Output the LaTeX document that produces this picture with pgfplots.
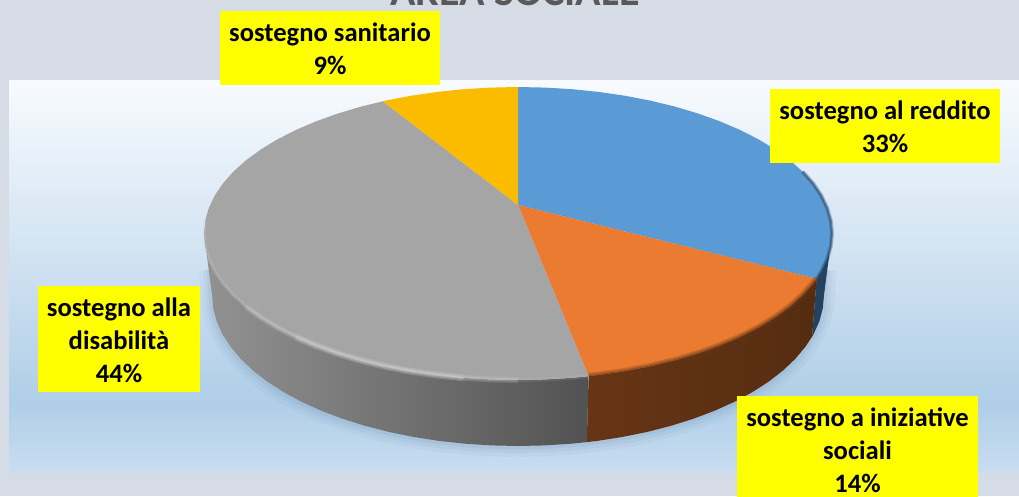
\documentclass[border=0pt]{standalone}
\usepackage{fontspec}
\setmainfont{Carlito}
\usepackage{pgfplots}
\pgfplotsset{compat=1.18}
\definecolor{pagebg}{HTML}{D6DCE5}
\definecolor{plottop}{HTML}{F8FBFE}
\definecolor{plotmid}{HTML}{B0CEE8}
\definecolor{plotbot}{HTML}{C9DDF0}
\definecolor{slblue}{HTML}{5B9BD5}
\definecolor{slorange}{HTML}{EB7B30}
\definecolor{slgrey}{HTML}{A5A5A5}
\definecolor{slyellow}{HTML}{FBBC00}
\definecolor{shadowc}{HTML}{6E8FB0}
\definecolor{wallblue}{HTML}{234260}
\definecolor{wallbrownL}{HTML}{673515}
\definecolor{wallbrownR}{HTML}{552C10}
\definecolor{wallgreyL}{HTML}{929292}
\definecolor{wallgreyR}{HTML}{525252}
\definecolor{titlec}{HTML}{595959}
\definecolor{laby}{RGB}{255,255,0}
\definecolor{hi}{HTML}{D2D2D2}
\tikzset{lab/.style={inner sep=0pt,align=center,text=black,
    font=\fontsize{26.6}{33}\selectfont\bfseries}}
% Values: sostegno al reddito 33, a iniziative sociali 14, alla disabilita 44, sanitario 9
% Outer rim of the base, front half
\newcommand{\basearc}{(826,270) (824.5,283) (824,295) (822.8,308.2) (819.4,321.2) (813.6,334.1) (805.5,346.6) (795.3,358.8) (783,370.5) (768.7,381.6) (752.4,392.1) (734.4,401.8) (714.7,410.7) (693.5,418.7) (671,425.8) (647.3,431.9) (622.7,436.9) (597.2,440.9) (571.1,443.7) (544.7,445.4) (518,446) (491.3,445.4) (464.9,443.7) (438.8,440.9) (413.3,436.9) (388.7,431.9) (365,425.8) (342.5,418.7) (321.3,410.7) (301.6,401.8) (283.6,392.1) (267.3,381.6) (253,370.5) (240.7,358.8) (230.5,346.6) (222.4,334.1) (216.6,321.2) (213.2,308.2) (212,295) (210,270)}
% Front rim arcs of the top face
\newcommand{\rimblueb}{(802.6,171.6) (813.1,183.4) (821.3,195.6) (827.2,208.1) (830.8,220.7) (832,233.5) (830.8,246.3) (827.2,258.9) (821.3,271.4) (816.6,278.8)}
\newcommand{\rimorange}{(816.6,278.8) (813.1,283.6) (802.6,295.4) (789.9,306.8) (775.2,317.5) (758.5,327.7) (740,337.1) (719.8,345.7) (698.1,353.5) (675,360.4) (650.7,366.3) (625.4,371.2) (599.3,375) (588.6,376.2)}
\newcommand{\rimgreya}{(588.6,376.2) (572.5,377.8) (545.4,379.4) (518,380)}
\newcommand{\rimgreyb}{(518,380) (490.6,379.4) (463.5,377.8)}
\newcommand{\rimgreyc}{(463.5,377.8) (436.7,375) (410.6,371.2) (385.3,366.3) (361,360.4) (337.9,353.5) (316.2,345.7) (296,337.1)}
\newcommand{\rimgreyd}{(296,337.1) (277.5,327.7) (260.8,317.5) (246.1,306.8)}
\newcommand{\rimgreye}{(246.1,306.8) (233.4,295.4) (222.9,283.6) (214.7,271.4) (208.8,258.9) (205.2,246.3) (204,233.5) (205.2,220.7)}
\begin{document}
\begin{tikzpicture}
\useasboundingbox (0,0) rectangle (1019pt,496pt);
\clip (0,0) rectangle (1019pt,496pt);
\begin{axis}[at={(0,0)},anchor=south west,width=1019pt,height=496pt,scale only axis,
  xmin=0,xmax=1019,ymin=0,ymax=496,y dir=reverse,hide axis]
% page and plot area
\addplot[fill=pagebg,draw=none] coordinates {(0,0) (1019,0) (1019,496) (0,496)};
\addplot[draw=none,top color=plottop,bottom color=plotmid] coordinates {(9,80) (1019,80) (1019,403) (9,403)};
\addplot[draw=none,top color=plotmid,bottom color=plotbot] coordinates {(9,403) (1019,403) (1019,472) (9,472)};
% soft shadow
\addplot[draw=shadowc,opacity=.07,line width=22pt] coordinates \basearc;
\addplot[draw=shadowc,opacity=.09,line width=14pt] coordinates \basearc;
\addplot[draw=shadowc,opacity=.12,line width=7pt] coordinates \basearc;
% walls
\addplot[draw=none,fill=wallblue] coordinates {(832,233.5) (830.8,246.3) (827.2,258.9) (821.3,271.4) (816.6,278.8) (812.1,336.6) (813.6,334.1) (819.4,321.2) (822.8,308.2) (824,295)};
\addplot[draw=none,left color=wallbrownL,right color=wallbrownR] coordinates {(588.6,376.2) (599.3,375) (625.4,371.2) (650.7,366.3) (675,360.4) (698.1,353.5) (719.8,345.7) (740,337.1) (758.5,327.7) (775.2,317.5) (789.9,306.8) (802.6,295.4) (813.1,283.6) (816.6,278.8) (812.1,336.6) (805.5,346.6) (795.3,358.8) (783,370.5) (768.7,381.6) (752.4,392.1) (734.4,401.8) (714.7,410.7) (693.5,418.7) (671,425.8) (647.3,431.9) (622.7,436.9) (597.2,440.9) (586.8,442.1)};
\addplot[draw=none,left color=wallgreyL,right color=wallgreyR] coordinates {(204,233.5) (205.2,246.3) (208.8,258.9) (214.7,271.4) (222.9,283.6) (233.4,295.4) (246.1,306.8) (260.8,317.5) (277.5,327.7) (296,337.1) (316.2,345.7) (337.9,353.5) (361,360.4) (385.3,366.3) (410.6,371.2) (436.7,375) (463.5,377.8) (490.6,379.4) (518,380) (545.4,379.4) (572.5,377.8) (588.6,376.2) (586.8,442.1) (571.1,443.7) (544.7,445.4) (518,446) (491.3,445.4) (464.9,443.7) (438.8,440.9) (413.3,436.9) (388.7,431.9) (365,425.8) (342.5,418.7) (321.3,410.7) (301.6,401.8) (283.6,392.1) (267.3,381.6) (253,370.5) (240.7,358.8) (230.5,346.6) (222.4,334.1) (216.6,321.2) (213.2,308.2) (212,295)};
% top face: blue, orange, grey, yellow
\addplot[draw=none,fill=slblue] coordinates {(518,205) (518,87) (545.4,87.6) (572.5,89.2) (599.3,92) (625.4,95.8) (650.7,100.7) (675,106.6) (698.1,113.5) (719.8,121.3) (740,129.9) (758.5,139.3) (775.2,149.5) (789.9,160.2) (802.6,171.6) (813.1,183.4) (821.3,195.6) (827.2,208.1) (830.8,220.7) (832,233.5) (830.8,246.3) (827.2,258.9) (821.3,271.4) (816.6,278.8)};
\addplot[draw=none,fill=slorange] coordinates {(518,205) (816.6,278.8) (813.1,283.6) (802.6,295.4) (789.9,306.8) (775.2,317.5) (758.5,327.7) (740,337.1) (719.8,345.7) (698.1,353.5) (675,360.4) (650.7,366.3) (625.4,371.2) (599.3,375) (588.6,376.2)};
\addplot[draw=none,fill=slgrey] coordinates {(518,205) (588.6,376.2) (572.5,377.8) (545.4,379.4) (518,380) (490.6,379.4) (463.5,377.8) (436.7,375) (410.6,371.2) (385.3,366.3) (361,360.4) (337.9,353.5) (316.2,345.7) (296,337.1) (277.5,327.7) (260.8,317.5) (246.1,306.8) (233.4,295.4) (222.9,283.6) (214.7,271.4) (208.8,258.9) (205.2,246.3) (204,233.5) (205.2,220.7) (208.8,208.1) (214.7,195.6) (222.9,183.4) (233.4,171.6) (246.1,160.2) (260.8,149.5) (277.5,139.3) (296,129.9) (316.2,121.3) (337.9,113.5) (361,106.6) (382.8,101.3)};
\addplot[draw=none,fill=slyellow] coordinates {(518,205) (382.8,101.3) (385.3,100.7) (410.6,95.8) (436.7,92) (463.5,89.2) (490.6,87.6) (518,87)};
% bevel along the rim
\addplot[draw=wallblue,opacity=.3,line width=4pt] coordinates \rimblueb;
\addplot[draw=wallblue,opacity=.45,line width=2pt] coordinates \rimblueb;
\addplot[draw=wallbrownL,opacity=.25,line width=7pt] coordinates \rimorange;
\addplot[draw=wallbrownL,opacity=.3,line width=4pt] coordinates \rimorange;
\addplot[draw=wallbrownL,opacity=.3,line width=2pt] coordinates \rimorange;
\addplot[draw=hi,opacity=.12,line width=4pt] coordinates \rimgreya;
\addplot[draw=hi,opacity=.2,line width=6pt] coordinates \rimgreyb;
\addplot[draw=hi,opacity=.25,line width=3pt] coordinates \rimgreyb;
\addplot[draw=hi,opacity=.25,line width=7pt] coordinates \rimgreyc;
\addplot[draw=hi,opacity=.3,line width=4.5pt] coordinates \rimgreyc;
\addplot[draw=hi,opacity=.45,line width=2pt] coordinates \rimgreyc;
\addplot[draw=hi,opacity=.2,line width=6pt] coordinates \rimgreyd;
\addplot[draw=hi,opacity=.3,line width=3pt] coordinates \rimgreyd;
\addplot[draw=hi,opacity=.2,line width=3.5pt] coordinates \rimgreye;
% label boxes
\addplot[fill=laby,draw=none] coordinates {(220,11) (440,11) (440,85) (220,85)};
\addplot[fill=laby,draw=none] coordinates {(770,89) (1000,89) (1000,163) (770,163)};
\addplot[fill=laby,draw=none] coordinates {(38,286) (200,286) (200,392) (38,392)};
\addplot[fill=laby,draw=none] coordinates {(737,396) (978,396) (978,503) (737,503)};
% label texts
\node[lab] at (axis cs:330,49) {sostegno sanitario\\9\%};
\node[lab] at (axis cs:885,127) {sostegno al reddito\\33\%};
\node[lab] at (axis cs:119,340) {sostegno alla\\disabilità\\44\%};
\node[lab] at (axis cs:857.5,450.5) {sostegno a iniziative\\sociali\\14\%};
% title, cut off by the top of the picture
\node[anchor=base,text=titlec,font=\fontsize{42}{44}\selectfont\bfseries] at (axis cs:515,5) {AREA SOCIALE};
\end{axis}
\end{tikzpicture}
\end{document}
